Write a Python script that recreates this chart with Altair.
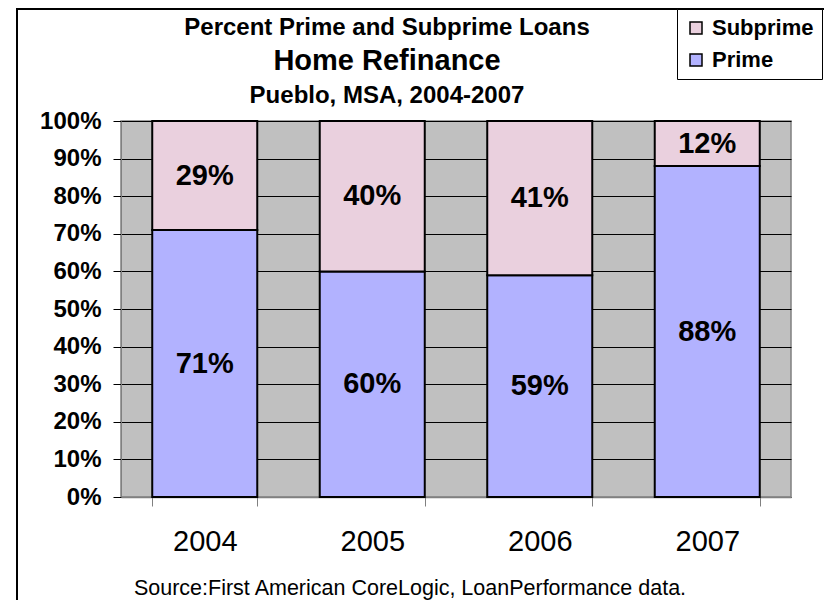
import altair as alt
import pandas as pd

FONT = "Liberation Sans"

years = ["2004", "2005", "2006", "2007"]
prime = [71, 60, 59, 88]
subprime = [29, 40, 41, 12]
series = ["Subprime", "Prime"]
series_colors = ["#EAD0DE", "#B2B2FF"]
y_ticks = [0, 10, 20, 30, 40, 50, 60, 70, 80, 90, 100]

title_lines = ["Percent Prime and Subprime Loans", "Home Refinance", "Pueblo, MSA, 2004-2007"]
source_text = "Source:First American CoreLogic, LoanPerformance data."

rows = []
for i, yr in enumerate(years):
    rows.append({"year": yr, "series": "Prime", "value": prime[i], "ord": 0})
    rows.append({"year": yr, "series": "Subprime", "value": subprime[i], "ord": 1})
df = pd.DataFrame(rows)

one = alt.Data(values=[{}])

x_scale = alt.Scale(paddingInner=0.373, paddingOuter=0.1865)
x_axis = alt.Axis(
    labelAngle=0, tickBand="extent", labelFontSize=29, labelFont=FONT,
    labelColor="black", labelPadding=21, tickSize=9, tickColor="#808080",
    domainColor="#808080", domainWidth=1.5, grid=False,
)
y_scale = alt.Scale(domain=[0, 100], nice=False)
y_axis = alt.Axis(
    values=y_ticks, labelExpr="datum.value + '%'", labelFontSize=24,
    labelFontWeight="bold", labelFont=FONT, labelColor="black",
    labelPadding=12, tickSize=8, tickColor="black", labelOverlap=False,
    domainColor="#808080", grid=True, gridColor="black",
    gridWidth=1, gridOpacity=1,
)

bars = alt.Chart(df).mark_bar(stroke="black", strokeWidth=2).encode(
    x=alt.X("year:N", title=None, scale=x_scale, axis=x_axis),
    y=alt.Y("value:Q", stack="zero", title=None, scale=y_scale, axis=y_axis),
    color=alt.Color(
        "series:N", title=None,
        scale=alt.Scale(domain=series, range=series_colors),
        legend=alt.Legend(
            orient="none", legendX=556, legendY=-112, direction="vertical",
            symbolType="square", symbolSize=144, symbolStrokeColor="black",
            symbolStrokeWidth=1.5, labelFontSize=22, labelFontWeight="bold",
            labelFont=FONT, labelColor="black", labelOffset=5, rowPadding=10,
            padding=8, strokeColor="black", fillColor="white", cornerRadius=0,
        ),
    ),
    order=alt.Order("ord:Q"),
)

labels = alt.Chart(df).transform_stack(
    stack="value", groupby=["year"], as_=["v0", "v1"],
    sort=[alt.SortField("ord", order="ascending")],
).transform_calculate(
    mid="(datum.v0 + datum.v1) / 2", lbl="datum.value + '%'"
).mark_text(fontSize=29, fontWeight="bold", font=FONT, baseline="middle", color="black").encode(
    x=alt.X("year:N", title=None, scale=x_scale, axis=x_axis),
    y=alt.Y("mid:Q", title=None, scale=y_scale, axis=y_axis),
    text="lbl:N",
)

def txt(s, x, y, size, weight):
    return alt.Chart(one).mark_text(
        text=s, fontSize=size, fontWeight=weight, font=FONT, color="black",
        align="center", baseline="alphabetic",
    ).encode(x=alt.value(x), y=alt.value(y))

t1 = txt(title_lines[0], 266, -86, 24, "bold")
t2 = txt(title_lines[1], 266, -51, 29, "bold")
t3 = txt(title_lines[2], 266, -18, 24, "bold")
src = txt(source_text, 289, 474, 21.5, "normal")

border_left = alt.Chart(one).mark_rule(color="black", strokeWidth=2).encode(
    x=alt.value(-104), y=alt.value(-113), y2=alt.value(480)
)
border_top = alt.Chart(one).mark_rule(color="black", strokeWidth=2).encode(
    x=alt.value(-105), x2=alt.value(704), y=alt.value(-112)
)

chart = alt.layer(
    bars, labels, t1, t2, t3, src, border_left, border_top
).properties(
    width=670, height=376,
    autosize=alt.AutoSizeParams(type="none"),
    padding={"left": 113, "top": 113, "right": 33, "bottom": 103},
    background="white",
).configure_view(
    fill="#C0C0C0", stroke="#808080", strokeWidth=1.5
)

chart.save("out.html", embed_options={"renderer": "svg", "actions": False})
